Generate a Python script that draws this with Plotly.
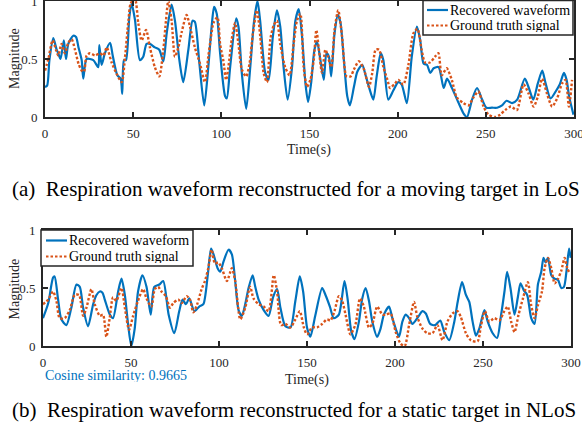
import plotly.graph_objects as go

# ---------------- data ----------------
a_rec_t = [0, 1.2, 2.5, 4.7, 6.6, 7.5, 8.8, 10.7, 11.9, 13.2, 16, 17.6, 19, 20.8, 21.7, 23.6, 27.4, 30.2, 30.8, 32.1, 34, 36.9, 38.4, 41, 42.9, 43.8, 44.8, 45.9, 47.8, 49.1, 51, 53.8, 55.7, 57.6, 59.5, 62.3, 64.8, 67.1, 69, 71.8, 73.7, 76.2, 78.4, 81.3, 83.7, 85, 87.5, 90.3, 92.6, 94.5, 95.9, 97.4, 99.3, 102.1, 103.1, 105, 108.4, 109.7, 111.6, 114.1, 116.4, 118.6, 120.5, 122, 124.9, 126.8, 129.2, 131.5, 133.4, 135.3, 137.6, 140.1, 142, 143.9, 145.8, 147.7, 149.2, 150.9, 152.8, 154.3, 156.2, 158.1, 159.6, 161, 162.3, 164.2, 166.1, 167.6, 169.5, 171.4, 172.9, 175.2, 177.1, 179.9, 181.8, 183.7, 186.2, 188.1, 190.4, 191.9, 194.7, 197.6, 200.4, 202.3, 205.2, 208, 210.9, 212.8, 214.7, 216.6, 218.5, 220.4, 223.2, 226.1, 228, 230.8, 234.6, 237.4, 239.3, 242.2, 245, 247.9, 250.3, 253.5, 256.4, 259.2, 261.7, 264.9, 267.8, 272.1, 274.4, 276.9, 279.5, 282, 283.9, 286.7, 289.6, 291.9, 294.3, 295.8, 297.2, 299.7]
a_rec_v = [0.26, 0.27, 0.49, 0.68, 0.58, 0.55, 0.5, 0.66, 0.5, 0.63, 0.7, 0.69, 0.6, 0.49, 0.33, 0.5, 0.49, 0.43, 0.62, 0.45, 0.55, 0.64, 0.53, 0.36, 0.33, 0.2, 0.49, 0.49, 0.86, 0.98, 0.84, 0.49, 0.52, 0.63, 0.63, 0.6, 0.58, 0.48, 0.72, 0.97, 0.83, 0.49, 0.3, 0.58, 0.83, 0.82, 0.47, 0.1, 0.43, 0.78, 0.95, 0.89, 0.55, 0.18, 0.16, 0.43, 0.85, 0.78, 0.38, 0.07, 0.43, 0.83, 1.0, 0.83, 0.38, 0.32, 0.69, 0.92, 0.78, 0.43, 0.15, 0.43, 0.83, 0.93, 0.69, 0.29, 0.13, 0.29, 0.58, 0.65, 0.49, 0.32, 0.55, 0.52, 0.35, 0.72, 0.88, 0.81, 0.49, 0.18, 0.1, 0.26, 0.39, 0.45, 0.36, 0.26, 0.15, 0.35, 0.55, 0.49, 0.15, 0.23, 0.3, 0.28, 0.12, 0.52, 0.78, 0.66, 0.46, 0.45, 0.38, 0.42, 0.43, 0.25, 0.33, 0.25, 0.12, 0.03, 0.0, 0.15, 0.25, 0.15, 0.08, 0.08, 0.08, 0.1, 0.14, 0.12, 0.15, 0.33, 0.25, 0.15, 0.29, 0.4, 0.29, 0.16, 0.22, 0.28, 0.38, 0.32, 0.18, 0.02]

a_gt_t = [0, 1.9, 4.3, 6.2, 7.5, 9.4, 11.3, 13.2, 15.1, 17, 19, 20.8, 22.1, 23.6, 25.5, 28.4, 31.2, 33.1, 35, 37.8, 40.7, 43.5, 45.4, 47.3, 48.6, 51, 52.9, 54.8, 57.3, 59.5, 62.3, 64.8, 67.1, 68.6, 69.9, 71.8, 73.7, 75.6, 77.5, 80.3, 82.2, 85, 87.9, 90.7, 92.6, 94.5, 95.5, 97.8, 99.3, 101.2, 102.7, 104, 105.9, 107.8, 109.7, 111.6, 114.1, 116, 117.9, 120.2, 122.1, 124, 125.9, 127.8, 129.7, 131.5, 133.4, 136.2, 138.7, 141, 142.9, 144.8, 146.7, 148.6, 150.5, 152.4, 153.9, 155.2, 157.1, 159, 160.3, 162.3, 164.2, 166.3, 168.5, 171, 173.3, 175.2, 178, 180.9, 183.7, 185.6, 187.5, 189.4, 191.9, 194.2, 195.7, 198.5, 200.4, 203.2, 206.1, 208.9, 211.2, 213.6, 215.5, 218.3, 221.2, 223.1, 225, 227.8, 230.7, 233.5, 237.3, 240.2, 243, 245.8, 248.7, 251.5, 255.3, 258.1, 261, 264.2, 267.6, 271.4, 274.3, 277.1, 279.4, 281.9, 284.7, 287.6, 290.4, 293.3, 295.2, 297.1, 298.9]
a_gt_v = [0.4, 0.5, 0.66, 0.58, 0.53, 0.63, 0.55, 0.64, 0.67, 0.58, 0.46, 0.4, 0.39, 0.53, 0.55, 0.53, 0.55, 0.53, 0.6, 0.47, 0.37, 0.3, 0.52, 0.83, 0.98, 1.02, 0.81, 0.66, 0.75, 0.6, 0.43, 0.35, 0.58, 0.83, 1.0, 0.83, 0.52, 0.6, 0.73, 0.88, 0.78, 0.6, 0.46, 0.3, 0.52, 0.73, 0.81, 0.86, 0.63, 0.48, 0.32, 0.43, 0.67, 0.81, 0.63, 0.41, 0.35, 0.46, 0.72, 0.92, 0.69, 0.38, 0.3, 0.67, 0.79, 0.83, 0.63, 0.43, 0.36, 0.63, 0.83, 0.89, 0.43, 0.26, 0.32, 0.49, 0.75, 0.6, 0.38, 0.58, 0.53, 0.43, 0.75, 0.92, 0.69, 0.35, 0.35, 0.41, 0.48, 0.41, 0.26, 0.38, 0.58, 0.58, 0.43, 0.32, 0.25, 0.29, 0.32, 0.28, 0.45, 0.72, 0.76, 0.58, 0.47, 0.47, 0.52, 0.55, 0.36, 0.42, 0.32, 0.17, 0.12, 0.1, 0.17, 0.22, 0.09, 0.02, 0.0, 0.02, 0.06, 0.09, 0.06, 0.28, 0.2, 0.09, 0.17, 0.33, 0.2, 0.09, 0.16, 0.29, 0.32, 0.09, 0.32]

b_rec_t = [0, 3, 5.7, 6.6, 8.5, 10.4, 13.3, 16.1, 19, 20.9, 22.8, 25.6, 28.5, 30.4, 32.3, 33.8, 35.1, 38, 39.8, 42.7, 44.6, 46.5, 48.4, 50.2, 52.1, 54, 56.5, 58.8, 61.2, 63.2, 66.1, 68.3, 71.4, 74.6, 77.4, 79.3, 81.2, 83.1, 86, 88.8, 91.1, 93.6, 95.5, 96.9, 99.2, 100.7, 102.6, 105.4, 107.3, 109.2, 111.1, 113, 114.9, 116.8, 119.1, 120.6, 122.5, 125.4, 128.2, 130.7, 133, 134.9, 137.7, 140.6, 143.4, 145.9, 147.8, 150, 151.9, 154.8, 158.6, 160.5, 163, 165.2, 168.1, 171.3, 173.2, 175.1, 177, 179.5, 181.4, 183.3, 185.2, 187.1, 189.9, 191.8, 193.7, 196.6, 198.5, 200.4, 202.3, 204.2, 206.1, 208, 209.9, 212.7, 215.6, 217.5, 220, 222.8, 225.7, 228, 230.8, 233.7, 235.6, 238.1, 240.3, 242.2, 244.1, 246, 247.9, 250.8, 252.7, 255.5, 258, 260.3, 262.2, 263.7, 265.6, 267.9, 269.8, 271.3, 273.2, 275.1, 277.4, 279.3, 281.2, 283.1, 284.4, 285.6, 286.9, 288.8, 290.7, 292.6, 294.5, 296, 297.4, 298.9, 299.8]
b_rec_v = [0.24, 0.37, 0.59, 0.6, 0.41, 0.23, 0.18, 0.33, 0.53, 0.51, 0.33, 0.17, 0.36, 0.44, 0.47, 0.46, 0.4, 0.27, 0.24, 0.47, 0.58, 0.44, 0.18, 0.0, 0.15, 0.47, 0.61, 0.51, 0.27, 0.51, 0.53, 0.56, 0.27, 0.11, 0.3, 0.4, 0.36, 0.41, 0.3, 0.34, 0.36, 0.61, 0.84, 0.79, 0.67, 0.64, 0.73, 0.83, 0.79, 0.56, 0.31, 0.26, 0.36, 0.5, 0.61, 0.51, 0.4, 0.31, 0.26, 0.42, 0.49, 0.33, 0.17, 0.16, 0.39, 0.6, 0.47, 0.16, 0.08, 0.27, 0.5, 0.44, 0.34, 0.24, 0.27, 0.56, 0.39, 0.13, 0.06, 0.21, 0.41, 0.5, 0.39, 0.21, 0.08, 0.15, 0.27, 0.34, 0.24, 0.15, 0.08, 0.21, 0.27, 0.24, 0.19, 0.24, 0.3, 0.28, 0.19, 0.18, 0.22, 0.12, 0.05, 0.21, 0.38, 0.55, 0.44, 0.38, 0.21, 0.09, 0.15, 0.31, 0.21, 0.11, 0.07, 0.27, 0.47, 0.64, 0.5, 0.27, 0.42, 0.54, 0.48, 0.44, 0.24, 0.19, 0.53, 0.64, 0.76, 0.72, 0.76, 0.61, 0.58, 0.57, 0.5, 0.51, 0.64, 0.84, 0.76]

b_gt_t = [0, 3, 5.7, 7.6, 9.5, 12.3, 15.2, 18, 20.5, 22.8, 24.7, 27.5, 29.4, 32.3, 34.1, 36, 37.9, 39.8, 41.7, 44.6, 46.5, 48.9, 51.2, 54, 56.9, 58.8, 61.6, 63.5, 65.4, 67.3, 69.8, 72.1, 74, 76.9, 78.8, 81.6, 83.5, 85.4, 87.6, 90.1, 92, 93.9, 95.8, 97.7, 99.6, 101.6, 104.5, 107.3, 109.2, 112.1, 114.9, 117.7, 119.6, 122.5, 125.4, 128.2, 131.1, 133, 135.3, 137.7, 140.6, 143.4, 145.9, 148.2, 150, 152.9, 155.7, 158.6, 161.4, 163.3, 165.6, 168.1, 170, 171.9, 174.7, 177.6, 180.1, 182.3, 185.2, 187.1, 189.9, 192.8, 194.7, 197.5, 200.4, 203.2, 205.5, 208, 210.8, 212.7, 215.6, 218.4, 221.3, 224.1, 227, 229.8, 232.7, 235.5, 237.4, 240.3, 243.1, 246.9, 248.8, 251.1, 253.6, 256.4, 259.3, 262.1, 264, 266, 267.9, 270.2, 272.7, 275.5, 277.4, 279.3, 281.2, 283.5, 285, 286.9, 288.8, 290.7, 292.6, 294.5, 296.4, 297.9, 299.2]
b_gt_v = [0.36, 0.4, 0.47, 0.39, 0.24, 0.24, 0.31, 0.44, 0.44, 0.26, 0.33, 0.49, 0.36, 0.26, 0.27, 0.08, 0.24, 0.42, 0.39, 0.5, 0.33, 0.14, 0.26, 0.39, 0.49, 0.41, 0.34, 0.49, 0.51, 0.47, 0.43, 0.33, 0.37, 0.4, 0.37, 0.43, 0.4, 0.29, 0.36, 0.49, 0.56, 0.67, 0.83, 0.71, 0.72, 0.67, 0.56, 0.67, 0.56, 0.23, 0.33, 0.51, 0.41, 0.36, 0.34, 0.3, 0.61, 0.47, 0.18, 0.19, 0.16, 0.23, 0.3, 0.16, 0.1, 0.16, 0.16, 0.19, 0.23, 0.22, 0.3, 0.43, 0.39, 0.27, 0.1, 0.19, 0.41, 0.34, 0.16, 0.19, 0.34, 0.27, 0.27, 0.28, 0.12, 0.02, 0.0, 0.18, 0.38, 0.25, 0.15, 0.11, 0.11, 0.18, 0.05, 0.21, 0.28, 0.3, 0.25, 0.11, 0.05, 0.04, 0.17, 0.3, 0.21, 0.24, 0.22, 0.3, 0.34, 0.21, 0.12, 0.27, 0.41, 0.55, 0.35, 0.24, 0.35, 0.47, 0.67, 0.76, 0.67, 0.54, 0.58, 0.65, 0.76, 0.67, 0.63]

x_ticks = [0, 50, 100, 150, 200, 250, 300]
y_ticks = [0, 0.5, 1]
y_ticktext = ["0", "0.5", "1"]
series_names = ["Recovered waveform", "Ground truth signal"]
x_title = "Time(s)"
y_title = "Magnitude"
caption_a = "(a)\u00a0\u00a0Respiration waveform reconstructed for a moving target in LoS"
caption_b = "(b)\u00a0\u00a0Respiration waveform reconstructed for a static target in NLoS"
cosine_text = "Cosine similarity: 0.9665"

# ---------------- styling ----------------
W, H = 582, 426
BLUE = "#0072BD"
ORANGE = "#D95319"
AX = "#262626"
FONT = "'Liberation Serif', 'Times New Roman', Times, serif"
DOT = "2.5px,2px"


def px_x(p):
    return p / W


def px_y(p):
    return 1 - p / H


fig = go.Figure()

panels = [
    ("x", "y", a_rec_t, a_rec_v, a_gt_t, a_gt_v),
    ("x2", "y2", b_rec_t, b_rec_v, b_gt_t, b_gt_v),
]
for xa, ya, rt, rv, gt, gv in panels:
    fig.add_trace(go.Scatter(x=rt, y=rv, name=series_names[0], mode="lines",
                             line=dict(color=BLUE, width=2.2, shape="spline", smoothing=0.7),
                             xaxis=xa, yaxis=ya, showlegend=False))
    fig.add_trace(go.Scatter(x=gt, y=gv, name=series_names[1], mode="lines",
                             line=dict(color=ORANGE, width=2.4, dash=DOT, shape="spline", smoothing=0.7),
                             xaxis=xa, yaxis=ya, showlegend=False))

axis_common = dict(showgrid=False, zeroline=False, showline=True, mirror="ticks",
                   linecolor=AX, linewidth=1.8, ticks="inside", ticklen=5, tickwidth=1.5,
                   tickcolor=AX, automargin=False, ticklabeloverflow="allow",
                   tickfont=dict(family=FONT, size=13, color=AX))

fig.update_layout(
    width=W, height=H, margin=dict(l=0, r=0, t=0, b=0, autoexpand=False),
    paper_bgcolor="white", plot_bgcolor="white",
    font=dict(family=FONT, color=AX),
    showlegend=False,
    xaxis=dict(domain=[px_x(45), px_x(574)], range=[0, 300], tickvals=x_ticks, anchor="y",
               ticklabelstandoff=3, **axis_common),
    yaxis=dict(domain=[px_y(117), px_y(1)], range=[0, 1], tickvals=y_ticks, ticktext=y_ticktext,
               anchor="x", ticklabelstandoff=3, **axis_common),
    xaxis2=dict(domain=[px_x(43), px_x(571)], range=[0, 300], tickvals=x_ticks, anchor="y2",
                ticklabelstandoff=3, **axis_common),
    yaxis2=dict(domain=[px_y(346), px_y(230)], range=[0, 1], tickvals=y_ticks, ticktext=y_ticktext,
                anchor="x2", ticklabelstandoff=3, **axis_common),
)


def text(t, x, y, size, color=AX, xanchor="center", angle=0, height=None):
    fig.add_annotation(text=t, x=px_x(x), y=px_y(y), xref="paper", yref="paper",
                       xanchor=xanchor, yanchor="middle", showarrow=False, textangle=angle,
                       height=height, borderpad=0,
                       font=dict(family=FONT, size=size, color=color))


# axis titles
text(x_title, 309, 149.5, 14)
text(x_title, 307, 380, 14)
text(y_title, 14, 59, 14, angle=-90)
text(y_title, 13.5, 289, 14, angle=-90)

# captions and note
text(caption_a, 11, 189, 21, color="black", xanchor="left")
text(caption_b, 11, 410, 21, color="black", xanchor="left")
text(cosine_text, 44, 375.5, 14, color=BLUE, xanchor="left", height=13)


# legends (box, sample lines, labels)
def legend_box(x0, y0, x1, y1, row1, row2, sx0, sx1, tx):
    fig.add_shape(type="rect", xref="paper", yref="paper",
                  x0=px_x(x0), x1=px_x(x1), y0=px_y(y1), y1=px_y(y0),
                  fillcolor="white", line=dict(color=AX, width=1.5), layer="above")
    for row, color, dash in ((row1, BLUE, "solid"), (row2, ORANGE, DOT)):
        fig.add_shape(type="line", xref="paper", yref="paper",
                      x0=px_x(sx0), x1=px_x(sx1), y0=px_y(row), y1=px_y(row),
                      line=dict(color=color, width=2.2, dash=dash), layer="above")
    text(series_names[0], tx, row1, 14, color="black", xanchor="left", height=13)
    text(series_names[1], tx, row2, 14, color="black", xanchor="left", height=13)


legend_box(423, 0.5, 573, 35, 10, 25.5, 427, 448, 449)
legend_box(41, 230, 193, 266, 240.5, 256.5, 46, 67, 68)

fig.write_html("out.html")
